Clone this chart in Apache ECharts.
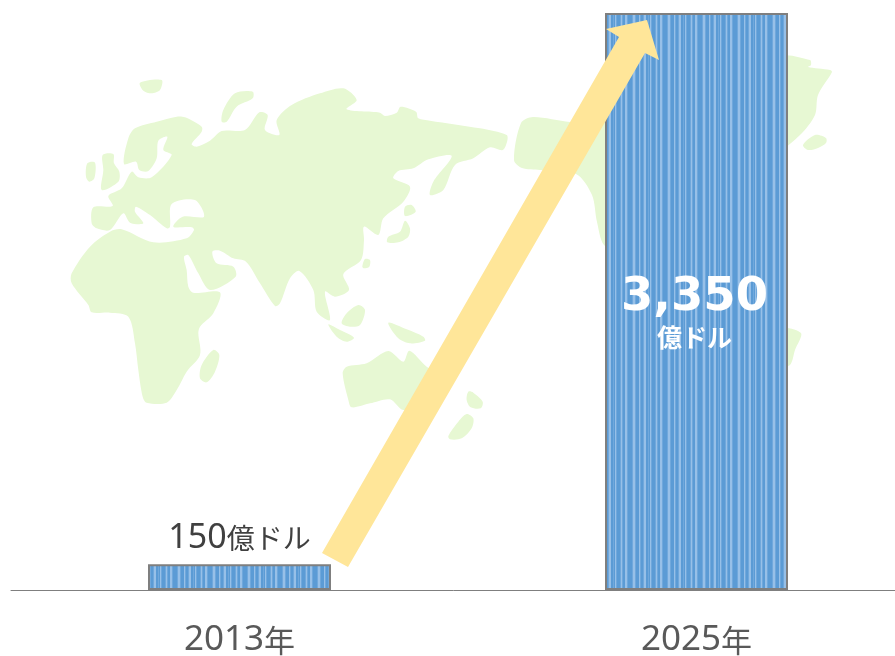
<!doctype html>
<html>
<head>
    <meta charset="utf-8">
    <title>市場規模</title>
    <script src="https://cdn.jsdelivr.net/npm/echarts@6/dist/echarts.min.js"></script>
    <style>
        html, body { margin: 0; padding: 0; background: #fff; }
        #main { width: 895px; height: 656px; overflow: hidden; }
    </style>
</head>
<body>
    <div id="main"></div>
<script type="text/javascript">
    // データ
    var categories = ['2013年', '2025年'];
    var values = [150, 3350];
    var unit = '億ドル';

    var JP_FONT = '"Noto Sans CJK JP", "Noto Sans", sans-serif';
    var LATIN_FONT = '"Noto Sans", sans-serif';

    // 背景の世界地図（装飾）: ユーラシア〜アフリカはクロップ座標(3倍)で記述
    var MAP_ZOOMED = [
        [[192,282],[205,205],[225,175],[290,155],[350,140],[375,142],[425,170],[425,185],[395,222],[410,230],[450,212],[485,183],[555,180],[598,127],[623,135],[615,180],[658,195],[650,150],[695,105],[780,70],[850,55],[890,90],[860,118],[960,128],[975,138],[1010,128],[1022,110],[1068,125],[1075,145],[1110,152],[1260,175],[1340,195],[1342,212],[1328,240],[1290,232],[1240,265],[1185,285],[1150,360],[1110,375],[1120,335],[1175,258],[1105,268],[1060,295],[1015,303],[1000,325],[1050,350],[1030,395],[970,445],[955,495],[912,470],[912,510],[903,570],[850,612],[867,660],[825,680],[795,665],[810,750],[770,725],[760,660],[718,603],[690,625],[660,700],[645,708],[600,640],[558,575],[520,565],[480,542],[457,545],[470,580],[520,590],[527,620],[450,660],[415,610],[385,555],[372,560],[380,600],[385,650],[400,668],[480,667],[460,730],[420,770],[415,790],[420,855],[380,905],[350,960],[320,998],[260,998],[248,980],[235,900],[225,820],[205,740],[150,728],[95,727],[85,705],[35,640],[35,610],[90,530],[150,485],[185,478],[280,517],[380,505],[402,480],[395,472],[340,470],[368,440],[432,440],[405,390],[335,402],[330,470],[320,475],[270,435],[228,410],[225,425],[250,460],[210,458],[190,430],[150,480],[110,475],[95,460],[100,412],[158,408],[145,378],[185,355],[215,305],[235,322],[275,322],[335,255],[310,240],[322,200],[295,212],[290,265],[265,303],[238,300],[228,275]],
        [[240,38],[305,30],[300,60],[275,70],[250,62]],
        [[525,70],[578,65],[578,85],[530,110],[500,155],[485,155],[490,120]],
        [[128,255],[160,252],[162,280],[178,305],[175,335],[125,360],[130,300]],
        [[82,280],[105,278],[103,325],[88,335],[78,320]],
        [[1035,410],[1055,405],[1067,425],[1035,438]],
        [[1035,452],[1050,475],[1045,500],[1015,517],[982,517],[985,500],[1020,485]],
        [[915,567],[930,570],[928,590],[912,595],[907,590]],
        [[895,705],[915,720],[900,765],[870,770],[845,760],[860,730]],
        [[805,763],[840,780],[882,803],[860,815],[830,800]],
        [[985,758],[1040,778],[1090,800],[1095,812],[1050,820],[1015,805]],
        [[848,910],[860,890],[920,880],[985,843],[1030,875],[1048,842],[1100,890],[1150,920],[1130,1000],[1030,1020],[990,988],[930,1000],[875,1012],[865,990]],
        [[1225,965],[1240,968],[1268,995],[1262,1015],[1232,1012],[1220,990]],
        [[1220,1032],[1240,1045],[1235,1075],[1205,1105],[1170,1108],[1165,1098],[1195,1055]],
        [[460,840],[478,855],[465,905],[440,937],[420,925],[425,885]]
    ];
    var MAP_PAGE = [
        [[514,160],[521,123],[533,117],[570,122],[620,125],[620,250],[604,245],[597,222],[592,195],[576,174],[540,170],[522,168]],
        [[780,58],[810,60],[811,65],[808,67],[830,70],[832,72],[818,95],[815,115],[800,135],[780,148]],
        [[803,145],[815,135],[826,138],[826,143],[818,148],[808,150]],
        [[780,329],[801,333],[795,350],[790,365],[780,365]]
    ];
    var ARROW = [[322,553],[619,37],[606,29],[647,20],[659,60],[645,53],[348,567]];

    // 棒の縦縞パターン
    var D = '#5b9bd5', M = '#70a8dc', L = '#97c0e8';
    var STRIPES = [D,D,M,L,L,M, D,D,D,L,M,D, D,M,L,L,D,D, M,D,L,M,D, D,D,M,L,M,D, D,L,L,M,D,D];
    var stripeCanvas = document.createElement('canvas');
    stripeCanvas.width = STRIPES.length;
    stripeCanvas.height = 4;
    var sctx = stripeCanvas.getContext('2d');
    STRIPES.forEach(function (c, i) {
        sctx.fillStyle = c;
        sctx.fillRect(i, 0, 1, 4);
    });

    var mapElements = MAP_ZOOMED.map(function (pts) {
        return pts.map(function (p) { return [p[0] / 3 + 60, p[1] / 3 + 70]; });
    }).concat(MAP_PAGE).map(function (pts) {
        return {
            type: 'polygon',
            z: 0,
            silent: true,
            shape: { points: pts, smooth: 0.3 },
            style: { fill: '#e7f8d3' }
        };
    });

    var myChart = echarts.init(document.getElementById('main'));
    var option = {
        animation: false,
        grid: { left: 11, top: 13, width: 914, height: 577, outerBoundsMode: 'none' },
        graphic: mapElements.concat([{
            type: 'polygon',
            z: 100,
            silent: true,
            shape: { points: ARROW },
            style: { fill: '#ffe699' }
        }]),
        xAxis: {
            type: 'category',
            data: categories,
            axisTick: { show: false },
            axisLine: { lineStyle: { color: '#7f7f7f', width: 1 } },
            axisLabel: {
                margin: 33,
                formatter: function (v) {
                    return '{d|' + v.slice(0, -1) + '}{k|' + v.slice(-1) + '}';
                },
                rich: {
                    d: { color: '#595959', fontSize: 35, fontFamily: LATIN_FONT },
                    k: { color: '#595959', fontSize: 31, fontFamily: JP_FONT }
                }
            }
        },
        yAxis: { type: 'value', min: 0, max: 3350, show: false, splitLine: { show: false } },
        series: [{
            type: 'bar',
            barWidth: 183,
            itemStyle: {
                color: { image: stripeCanvas, repeat: 'repeat' },
                borderColor: '#7f7f7f',
                borderWidth: 2
            },
            data: [
                {
                    value: values[0],
                    label: {
                        show: true,
                        position: 'top',
                        distance: 9,
                        formatter: function (p) { return '{d|' + p.value + '}{k|' + unit + '}'; },
                        rich: {
                            d: { color: '#404040', fontSize: 34, fontFamily: LATIN_FONT },
                            k: { color: '#404040', fontSize: 28, fontFamily: JP_FONT }
                        }
                    }
                },
                {
                    value: values[1],
                    label: {
                        show: true,
                        position: 'inside',
                        offset: [-2, 11],
                        formatter: function (p) {
                            return '{num|' + p.value.toLocaleString('en-US') + '}\n{unit|' + unit + '}';
                        },
                        rich: {
                            num: { color: '#fff', fontSize: 46.5, fontWeight: 'bold', fontFamily: '"DejaVu Sans"', lineHeight: 50 },
                            unit: { color: '#fff', fontSize: 25, fontWeight: 'bold', fontFamily: JP_FONT, lineHeight: 30 }
                        }
                    }
                }
            ]
        }]
    };
    myChart.setOption(option);
</script>
</body>
</html>
